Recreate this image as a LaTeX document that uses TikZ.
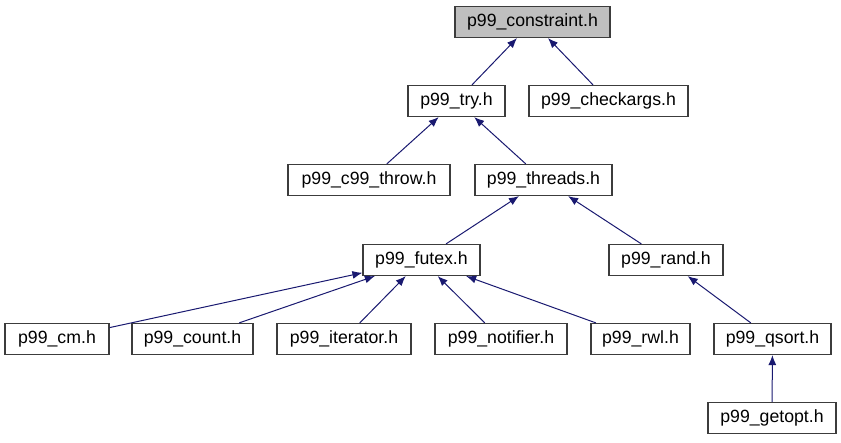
\documentclass[tikz,border=0pt]{standalone}
\usepackage{fontspec}
\setmainfont{Liberation Sans}
\usetikzlibrary{arrows.meta}
\definecolor{edgecolor}{RGB}{25, 25, 112}
\definecolor{rootcolor}{RGB}{191, 191, 191}
\definecolor{bordercolor}{RGB}{60, 60, 60}
\tikzset{
fileblock/.style={
  draw=bordercolor,
  line width=0.6pt,
  fill=white,
  minimum height=15.5pt,
  inner sep=0pt,
  font=\fontsize{8.85}{10}\selectfont
},
rootblock/.style={
  fileblock,
  fill=rootcolor
},
arrow/.style={
  -{Latex[length=5pt,width=4pt]},
  line width=0.5pt,
  draw=edgecolor
}
}
\begin{document}
\begin{tikzpicture}[x=0.5pt,y=-0.5pt]
  \useasboundingbox (0,0) rectangle (841,443);
  % rows
  \node[rootblock, minimum width=77.5pt] (constraint) at (532.5,22) {p99\_constraint.h};
  \node[fileblock, minimum width=48.5pt] (try) at (456.5,101) {p99\_try.h};
  \node[fileblock, minimum width=79.5pt] (checkargs) at (608.5,101) {p99\_checkargs.h};
  \node[fileblock, minimum width=81pt] (cthrow) at (369,180) {p99\_c99\_throw.h};
  \node[fileblock, minimum width=68.5pt] (threads) at (543.5,180) {p99\_threads.h};
  \node[fileblock, minimum width=58.5pt] (futex) at (421.5,260) {p99\_futex.h};
  \node[fileblock, minimum width=57pt] (rand) at (666,260) {p99\_rand.h};
  \node[fileblock, minimum width=52pt] (cm) at (57,339) {p99\_cm.h};
  \node[fileblock, minimum width=60.5pt] (count) at (192.5,339) {p99\_count.h};
  \node[fileblock, minimum width=67pt] (iterator) at (344,339) {p99\_iterator.h};
  \node[fileblock, minimum width=66pt] (notifier) at (501,339) {p99\_notifier.h};
  \node[fileblock, minimum width=49.5pt] (rwl) at (640.5,339) {p99\_rwl.h};
  \node[fileblock, minimum width=58.5pt] (qsort) at (772.5,339) {p99\_qsort.h};
  \node[fileblock, minimum width=64pt] (getopt) at (772,418) {p99\_getopt.h};
  % includes
  \draw[arrow] (try) -- (constraint);
  \draw[arrow] (checkargs) -- (constraint);
  \draw[arrow] (cthrow) -- (try);
  \draw[arrow] (threads) -- (try);
  \draw[arrow] (futex) -- (threads);
  \draw[arrow] (rand) -- (threads);
  \draw[arrow] (cm) -- (futex);
  \draw[arrow] (count) -- (futex);
  \draw[arrow] (iterator) -- (futex);
  \draw[arrow] (notifier) -- (futex);
  \draw[arrow] (rwl) -- (futex);
  \draw[arrow] (qsort) -- (rand);
  \draw[arrow] (getopt) -- (qsort);
\end{tikzpicture}
\end{document}
